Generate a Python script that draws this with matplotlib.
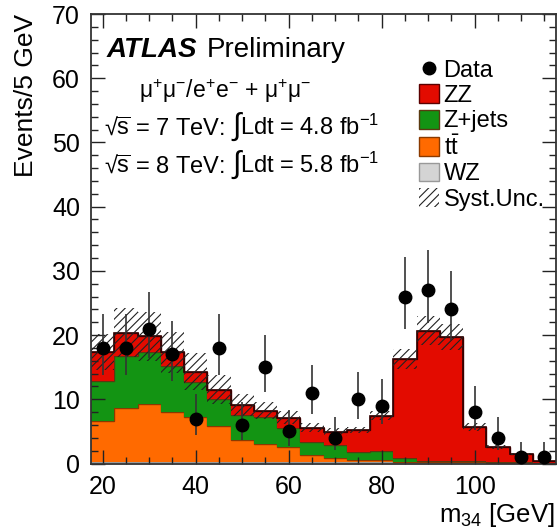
import numpy as np
import matplotlib
matplotlib.use('Agg')
import matplotlib.pyplot as plt
from matplotlib.patches import Patch
from matplotlib.lines import Line2D
from matplotlib.ticker import MultipleLocator

plt.rcParams['font.family'] = ['Liberation Sans', 'DejaVu Sans']
plt.rcParams['mathtext.fontset'] = 'custom'
plt.rcParams['mathtext.rm'] = 'Liberation Sans'
plt.rcParams['mathtext.it'] = 'Liberation Sans:italic'
plt.rcParams['mathtext.bf'] = 'Liberation Sans:bold'
plt.rcParams['hatch.linewidth'] = 0.8

# bin centres (GeV), 5 GeV wide
m34 = [20, 25, 30, 35, 40, 45, 50, 55, 60, 65, 70, 75, 80, 85, 90, 95, 100, 105, 110, 115]
data = [18, 18, 21, 17, 7, 18, 6, 15, 5, 11, 4, 10, 9, 26, 27, 24, 8, 4, 1, 1]
data_lo = [13.8, 13.8, 16.5, 12.9, 4.4, 13.8, 3.6, 11.2, 2.8, 7.7, 2.1, 6.9, 6.1, 21.0, 21.9, 19.2, 5.2, 2.1, 0.2, 0.2]
data_hi = [23.3, 23.3, 26.7, 22.2, 10.8, 23.3, 9.6, 20.0, 8.4, 15.4, 7.2, 14.3, 13.1, 32.2, 33.3, 30.0, 12.0, 7.2, 3.3, 3.3]

# backgrounds, stacked bottom -> top
wz = [0.2, 0.2, 0.3, 0.2, 0.2, 0.2, 0.2, 0.2, 0.2, 0.2, 0.2, 0.2, 0.2, 0.2, 0.2, 0.2, 0.2, 0.1, 0.1, 0.05]
ttbar = [6.4, 8.4, 9.0, 7.8, 7.0, 5.6, 3.5, 2.8, 2.4, 1.1, 0.7, 0.4, 0.3, 0.1, 0.0, 0.0, 0.0, 0.05, 0.0, 0.0]
zjets = [6.3, 8.2, 8.1, 7.2, 5.5, 4.2, 3.9, 4.3, 2.9, 2.1, 2.0, 1.2, 1.4, 0.5, 0.2, 0.2, 0.2, 0.15, 0.1, 0.05]
zz = [4.4, 3.6, 2.4, 2.1, 1.6, 1.5, 1.5, 0.9, 1.6, 2.2, 2.0, 3.4, 5.5, 15.5, 20.3, 19.3, 5.3, 2.3, 1.3, 0.35]
syst = [2.8, 3.8, 3.8, 3.2, 2.9, 2.3, 1.7, 1.3, 1.0, 0.7, 0.6, 0.5, 0.7, 1.6, 2.2, 2.1, 0.6, 0.3, 0.15, 0.05]

c_zz = '#E30B00'
c_zj = '#139413'
c_tt = '#FF6A00'
c_wz = '#D4D4D4'

edges = np.append(np.array(m34) - 2.5, m34[-1] + 2.5)

fig = plt.figure(figsize=(5.57, 5.28), dpi=100)
ax = fig.add_axes([91 / 557, 64.5 / 528, 465 / 557, 449.5 / 528])

base = np.zeros(len(m34))
for vals, col, ecol in [(wz, c_wz, '#999999'), (ttbar, c_tt, '#8a3a00'),
                        (zjets, c_zj, '#5a3a10'), (zz, c_zz, '#5a0000')]:
    top = base + np.array(vals)
    ax.stairs(top, edges, baseline=base, fill=True, color=col, lw=0)
    ax.stairs(top, edges, baseline=None, color=ecol, lw=1.0)
    base = top

total = base
ax.stairs(total, edges, baseline=None, color='#300000', lw=1.2)
ax.stairs(total + np.array(syst), edges, baseline=total - np.array(syst), fill=True,
          facecolor='none', edgecolor='#222222', hatch='////', lw=0)

d = np.array(data)
ax.errorbar(m34, data, yerr=[d - np.array(data_lo), np.array(data_hi) - d],
            fmt='o', color='black', ecolor='#333333', ms=9, elinewidth=1.2, capsize=0, zorder=5)

ax.set_xlim(17.5, 117.5)
ax.set_ylim(0, 70)
ax.xaxis.set_major_locator(MultipleLocator(20))
ax.xaxis.set_minor_locator(MultipleLocator(5))
ax.yaxis.set_major_locator(MultipleLocator(10))
ax.yaxis.set_minor_locator(MultipleLocator(2))
ax.tick_params(which='both', direction='in', top=True, right=True, labelsize=18, width=1.0, color='#222222')
ax.tick_params(which='major', length=10)
ax.tick_params(which='minor', length=5)
ax.tick_params(axis='x', pad=8)
ax.tick_params(axis='y', pad=8)
for s in ax.spines.values():
    s.set_linewidth(1.3)
    s.set_color('#333333')

ax.set_ylabel('Events/5 GeV', fontsize=19, loc='top')
ax.yaxis.set_label_coords(-0.113, 1.0)
ax.set_xlabel('m$_{34}$ [GeV]', fontsize=18.5, loc='right')
ax.xaxis.set_label_coords(0.997, -0.083)

ax.text(0.034, 0.92, 'ATLAS', transform=ax.transAxes, fontsize=20, fontweight='bold',
        style='italic', va='center')
ax.text(0.249, 0.92, 'Preliminary', transform=ax.transAxes, fontsize=20, va='center')
ax.text(0.288, 0.813, 'μ$^{+}$μ$^{-}$/e$^{+}$e$^{-}$ + μ$^{+}$μ$^{-}$', transform=ax.transAxes,
        fontsize=16.5, ha='center', va='baseline')

# luminosity lines, built piece by piece so the integral sign can be larger
for yb, energy, lumi in [(0.731, '7', '4.8'), (0.646, '8', '5.8')]:
    t1 = ax.text(0.028, yb, '√$\\overline{\\mathrm{s}}$ = ' + energy + ' TeV:',
                 transform=ax.transAxes, fontsize=17, va='baseline')
    t2 = ax.annotate('∫', xy=(1, yb), xycoords=(t1, 'axes fraction'), fontsize=22,
                     xytext=(5, 0), textcoords='offset points', va='baseline', ha='left')
    ax.annotate('Ldt = ' + lumi + ' fb$^{-1}$', xy=(1, yb), xycoords=(t2, 'axes fraction'),
                fontsize=17, va='baseline', ha='left')

handles = [
    Line2D([], [], marker='o', color='black', ls='none', ms=9),
    Patch(facecolor=c_zz, edgecolor='#5a0000'),
    Patch(facecolor=c_zj, edgecolor='#5a3a10'),
    Patch(facecolor=c_tt, edgecolor='#8a3a00'),
    Patch(facecolor=c_wz, edgecolor='#999999'),
    Patch(facecolor='white', edgecolor='#222222', hatch='////', lw=0),
]
labels = ['Data', 'ZZ', 'Z+jets', r't$\bar{\mathrm{t}}$', 'WZ', 'Syst.Unc.']
ax.legend(handles, labels, loc='upper left', bbox_to_anchor=(0.705, 0.9), frameon=False,
          fontsize=17, handlelength=0.85, handleheight=0.85, handletextpad=0.2,
          labelspacing=0.12, borderpad=0, borderaxespad=0)

fig.savefig('out.png', dpi=100)
